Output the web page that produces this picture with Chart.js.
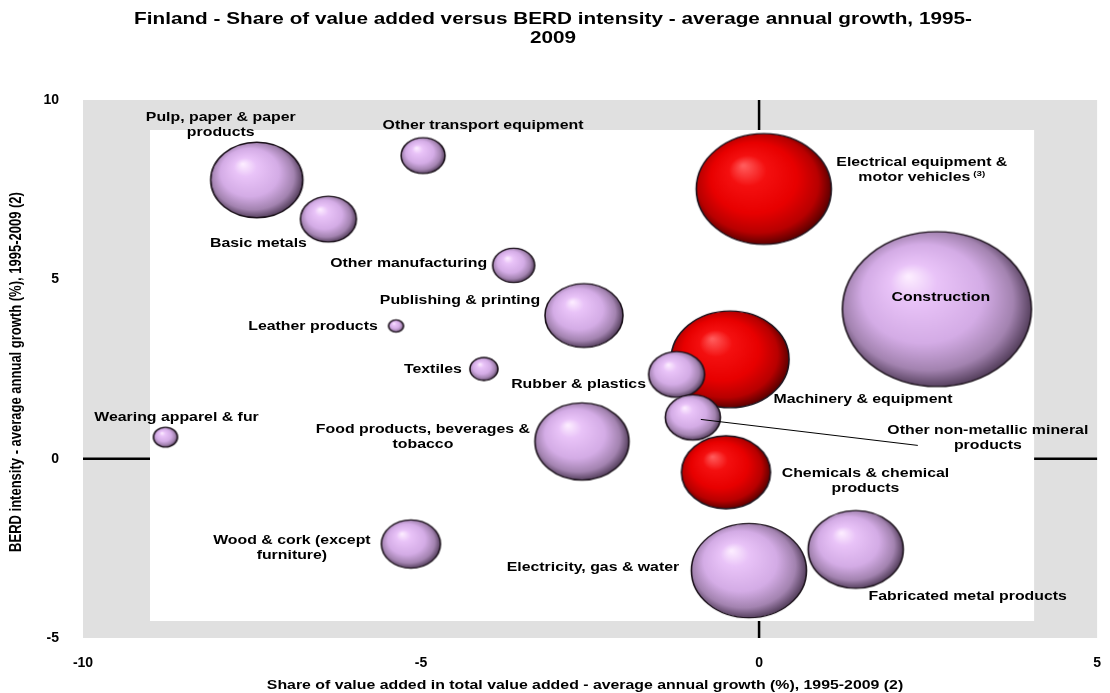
<!DOCTYPE html>
<html>
<head>
<meta charset="utf-8">
<script src="https://cdn.jsdelivr.net/npm/chart.js@4.4.0/dist/chart.umd.min.js"></script>
<style>
  html, body { margin: 0; padding: 0; background: #fff; }
  #wrap { width: 1110px; height: 693px; }
</style>
</head>
<body>
<div id="wrap"><canvas id="bubbleChart" width="1110" height="693"></canvas></div>
<script>
// sectors, in drawing order (red ones before the small bubbles lying on them)
const sectors = [
    ['Pulp, paper & paper', 'products'],
    ['Basic metals'],
    ['Other transport equipment'],
    ['Other manufacturing'],
    ['Publishing & printing'],
    ['Leather products'],
    ['Textiles'],
    ['Wearing apparel & fur'],
    ['Food products, beverages &', 'tobacco'],
    ['Wood & cork (except', 'furniture)'],
    ['Electricity, gas & water'],
    ['Fabricated metal products'],
    ['Chemicals & chemical', 'products'],
    ['Machinery & equipment'],
    ['Rubber & plastics'],
    ['Other non-metallic mineral', 'products'],
    ['Electrical equipment &', 'motor vehicles'],
    ['Construction']
];
// share of value added - average annual growth (%)
const valueAddedGrowth = [-7.43, -6.37, -4.97, -3.63, -2.59, -5.37, -4.07, -8.78, -2.62, -5.15, -0.15, 1.43, -0.49, -0.43, -1.22, -0.98, 0.07, 2.63];
// BERD intensity - average annual growth (%)
const berdGrowth = [7.77, 6.68, 8.45, 5.39, 3.99, 3.70, 2.50, 0.60, 0.48, -2.38, -3.12, -2.53, -0.38, 2.77, 2.35, 1.15, 7.52, 4.17];
// bubble size
const bubbleSizes = [21.2, 7.8, 4.8, 4.4, 15.2, 0.56, 1.96, 1.44, 22.1, 8.7, 33.1, 22.6, 19.8, 34.8, 7.8, 7.6, 45.6, 89.3];
// high-tech sectors shown in red
const highTech = [false, false, false, false, false, false, false, false, false, false, false, false, true, true, false, false, true, false];
const notes = ['', '', '', '', '', '', '', '', '', '', '', '', '', '', '', '', '(3)', ''];
const xTicks = [-10, -5, 0, 5];
const yTicks = [-5, 0, 5, 10];

const title = ['Finland - Share of value added versus BERD intensity - average annual growth, 1995-', '2009'];
const xTitle = 'Share of value added in total value added - average annual growth (%), 1995-2009 (2)';
const yTitle = 'BERD intensity - average annual growth (%), 1995-2009 (2)';

// label placement relative to bubble centre (px)
const labelOffsets = [
    [-36, -55], [-70, 24], [60, -30], [-105, -2], [-124, -15], [-83, 0], [-51, 0], [11, -20],
    [-159, -4.5], [-119, 3.5], [-156, -3.5], [112, 47.5], [139.5, 9], [133, 40.5], [-98, 10],
    [295, 21], [158, -19.5], [4, -12]
];

const STRETCH = 1.22;   // the picture is widened, text and bubbles too
const FONT = '"Liberation Sans", Arial, sans-serif';

function wideText(ctx, str, x, y, align) {
    ctx.save();
    ctx.translate(x, y);
    ctx.scale(STRETCH, 1);
    ctx.textAlign = align || 'center';
    ctx.textBaseline = 'middle';
    ctx.fillText(str, 0, 0);
    ctx.restore();
}

const sphereCache = {};
function sphere(i, rx) {
    if (sphereCache[i]) return sphereCache[i];
    const red = highTech[i];
    const ry = rx / STRETCH;
    const c = document.createElement('canvas');
    c.width = Math.ceil(rx * 2 + 4);
    c.height = Math.ceil(ry * 2 + 4);
    const g = c.getContext('2d');
    g.translate(c.width / 2, c.height / 2);
    g.scale(1, ry / rx);
    const grad = g.createRadialGradient(-rx * 0.3, -rx * 0.42, rx * 0.02, -rx * 0.05, -rx * 0.05, rx * 1.05);
    if (red) {
        grad.addColorStop(0, '#ff5a5a');
        grad.addColorStop(0.25, '#f41010');
        grad.addColorStop(0.6, '#e80000');
        grad.addColorStop(0.85, '#b80000');
        grad.addColorStop(1, '#600000');
    } else {
        grad.addColorStop(0, '#fcecff');
        grad.addColorStop(0.22, '#e9c3f8');
        grad.addColorStop(0.6, '#d4ace6');
        grad.addColorStop(0.85, '#a383b0');
        grad.addColorStop(1, '#584260');
    }
    g.beginPath();
    g.arc(0, 0, rx, 0, Math.PI * 2);
    g.fillStyle = grad;
    g.fill();
    g.lineWidth = 1.6;
    g.strokeStyle = '#1c121c';
    g.stroke();
    sphereCache[i] = c;
    return c;
}

// grey plot area, axis cross lines, white inner panel
const backdrop = {
    id: 'backdrop',
    beforeDatasetsDraw(chart) {
        const {ctx, chartArea: a, scales: {x, y}} = chart;
        ctx.save();
        ctx.fillStyle = '#e0e0e0';
        ctx.fillRect(a.left, a.top, a.right - a.left, a.bottom - a.top);
        ctx.strokeStyle = '#000';
        ctx.lineWidth = 2.5;
        ctx.beginPath();
        ctx.moveTo(a.left, y.getPixelForValue(0));
        ctx.lineTo(a.right, y.getPixelForValue(0));
        ctx.moveTo(x.getPixelForValue(0), a.top);
        ctx.lineTo(x.getPixelForValue(0), a.bottom);
        ctx.stroke();
        ctx.fillStyle = '#fff';
        ctx.fillRect(a.left + 67, a.top + 30, a.right - a.left - 130, a.bottom - a.top - 47);
        ctx.restore();
    }
};

// sector names, titles
const texts = {
    id: 'texts',
    afterDatasetsDraw(chart) {
        const ctx = chart.ctx;
        const meta = chart.getDatasetMeta(0);
        ctx.save();
        ctx.fillStyle = '#000';
        ctx.font = 'bold 13px ' + FONT;
        sectors.forEach((lines, i) => {
            const pt = meta.data[i];
            const cx = pt.x + labelOffsets[i][0];
            const cy = pt.y + labelOffsets[i][1];
            const top = cy - (lines.length - 1) * 15 / 2;
            lines.forEach((line, k) => {
                const isLast = k === lines.length - 1;
                if (isLast && notes[i]) {
                    ctx.font = 'bold 13px ' + FONT;
                    const w1 = ctx.measureText(line).width * STRETCH;
                    ctx.font = 'bold 8px ' + FONT;
                    const w2 = ctx.measureText(notes[i]).width * STRETCH;
                    const start = cx - (w1 + 3 + w2) / 2;
                    wideText(ctx, notes[i], start + w1 + 3, top + k * 15 - 3, 'left');
                    ctx.font = 'bold 13px ' + FONT;
                    wideText(ctx, line, start, top + k * 15, 'left');
                } else {
                    wideText(ctx, line, cx, top + k * 15);
                }
            });
        });
        // leader line for the mineral products label
        const m = meta.data[15];
        ctx.strokeStyle = '#000';
        ctx.lineWidth = 1;
        ctx.beginPath();
        ctx.moveTo(m.x + 8, m.y + 2);
        ctx.lineTo(m.x + 225, m.y + 28);
        ctx.stroke();

        ctx.font = 'bold 17px ' + FONT;
        wideText(ctx, title[0], 553, 19);
        wideText(ctx, title[1], 553, 38);
        ctx.font = 'bold 13px ' + FONT;
        wideText(ctx, xTitle, 585, 685);
        ctx.translate(17, 372);
        ctx.scale(STRETCH, 1);
        ctx.rotate(-Math.PI / 2);
        ctx.textAlign = 'center';
        ctx.textBaseline = 'middle';
        ctx.fillText(yTitle, 0, 0);
        ctx.restore();
    }
};

const tickFont = {family: FONT, size: 14, weight: 'bold'};

new Chart(document.getElementById('bubbleChart'), {
    type: 'bubble',
    data: {
        datasets: [{
            data: sectors.map((s, i) => ({x: valueAddedGrowth[i], y: berdGrowth[i], r: 10 * Math.sqrt(bubbleSizes[i])})),
            pointStyle: ctx => sphere(ctx.dataIndex, ctx.raw.r),
            backgroundColor: 'transparent',
            borderWidth: 0,
            clip: false
        }]
    },
    options: {
        responsive: false,
        devicePixelRatio: 1,
        animation: false,
        events: [],
        layout: {autoPadding: false, padding: {top: 100, right: 7, left: 0, bottom: 0}},
        plugins: {legend: {display: false}, tooltip: {enabled: false}},
        scales: {
            x: {
                type: 'linear', min: -10, max: 5,
                afterBuildTicks: s => { s.ticks = xTicks.map(v => ({value: v})); },
                afterFit: s => { s.height = 55; },
                grid: {display: false}, border: {display: false},
                ticks: {font: tickFont, color: '#000', padding: 9, maxRotation: 0}
            },
            y: {
                type: 'linear', min: -5, max: 10,
                afterBuildTicks: s => { s.ticks = yTicks.map(v => ({value: v})); },
                afterFit: s => { s.width = 83; },
                grid: {display: false}, border: {display: false},
                ticks: {font: tickFont, color: '#000', padding: 16}
            }
        }
    },
    plugins: [backdrop, texts]
});
</script>
</body>
</html>
